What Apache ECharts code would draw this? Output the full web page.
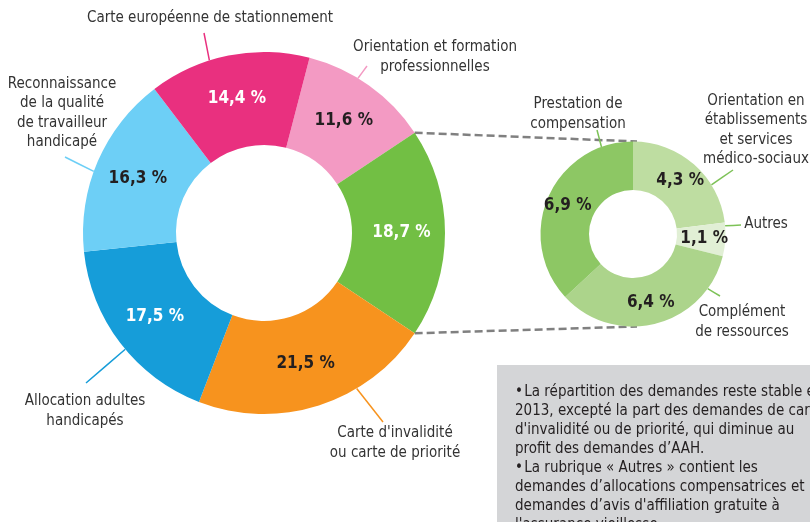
<!DOCTYPE html>
<html>
<head>
<meta charset="utf-8">
<script src="https://cdn.jsdelivr.net/npm/echarts@6/dist/echarts.min.js"></script>
<style>
  html, body { margin: 0; padding: 0; background: #fff; }
  #chart { width: 810px; height: 522px; }
</style>
</head>
<body>
<div id="chart"></div>
<script>
// demandes par type (grand anneau)
var mainNames = [
  'Orientation et formation\nprofessionnelles',
  'Prestations',
  "Carte d'invalidité\nou carte de priorité",
  'Allocation adultes\nhandicapés',
  'Reconnaissance\nde la qualité\nde travailleur\nhandicapé',
  'Carte européenne de stationnement'
];
var mainValues = [11.6, 18.7, 21.5, 17.5, 16.3, 14.4];
var mainColors = ['#F39AC3', '#72BF44', '#F7931E', '#169DD9', '#6DCFF6', '#E9307F'];
var mainPctColors = ['#231F20', '#ffffff', '#231F20', '#ffffff', '#231F20', '#ffffff'];

// détail des prestations (petit anneau)
var subNames = [
  'Orientation en\nétablissements\net services\nmédico-sociaux',
  'Autres',
  'Complément\nde ressources',
  'Prestation de\ncompensation'
];
var subValues = [4.3, 1.1, 6.4, 6.9];
var subColors = ['#BEDDA1', '#E1EFD5', '#ACD48B', '#8DC764'];

var noteLines = [
  '\u2022\u200aLa répartition des demandes reste stable en',
  '2013, excepté la part des demandes de carte',
  "d'invalidité ou de priorité, qui diminue au",
  'profit des demandes d\u2019AAH.',
  '\u2022\u200aLa rubrique « Autres » contient les',
  'demandes d\u2019allocations compensatrices et les',
  'demandes d\u2019avis d\'affiliation gratuite à',
  'l\'assurance vieillesse.'
];

// mise en page
var FONT = "'DejaVu Sans Condensed', Roboto, sans-serif";
var MAIN = { cx: 264, cy: 233, r0: 88, r: 181 };
var SUB = { cx: 633, cy: 234, r0: 44, r: 92.5 };
// la part "Prestations" est centrée sur l'horizontale
var mainStart = (mainValues[0] + mainValues[1] / 2) * 3.6;
var subStart = 90;

// position du texte, bout du trait, point d'attache dans la part (0..1)
var mainLabelPos = [[435, 57], null, [395, 443], [85, 411], [62, 113], [210, 18]];
var mainLineEnd = [[367, 66], null, [383, 422], [86, 383], [65, 157], [204, 33]];
var mainLineFrac = [0.4, 0.5, 0.33, 0.46, 0.44, 0.38];
var subLabelPos = [[756, 130], [766, 224], [742, 322], [578, 114]];
var subLineEnd = [[733, 170], [741, 225], [720, 296], [597, 130]];
var subLineFrac = [0.7, 0.1, 0.18, 0.85];

function pct(v) {
  return v.toFixed(1).replace('.', ',') + ' %';
}

// angle (radians, sens horaire depuis midi) d'un point dans la part i
function clockAngle(values, startAngle, i, frac) {
  var total = 0, before = 0;
  for (var k = 0; k < values.length; k++) {
    total += values[k];
    if (k < i) before += values[k];
  }
  var deg = (90 - startAngle) + (before + values[i] * frac) / total * 360;
  return deg * Math.PI / 180;
}

function arcPoint(geo, a) {
  return [geo.cx + geo.r * Math.sin(a), geo.cy - geo.r * Math.cos(a)];
}

function makeLayout(geo, values, startAngle, pos, ends, fracs) {
  return function (params) {
    var i = params.dataIndex;
    if (!pos[i]) return {};
    var p0 = arcPoint(geo, clockAngle(values, startAngle, i, fracs[i]));
    var p2 = ends[i];
    var p1 = [(p0[0] + p2[0]) / 2, (p0[1] + p2[1]) / 2];
    return {
      x: pos[i][0],
      y: pos[i][1],
      align: 'center',
      verticalAlign: 'middle',
      labelLinePoints: [p0, p1, p2]
    };
  };
}

function ringData(names, values, colors, pctColors) {
  return values.map(function (v, i) {
    return {
      name: names[i],
      value: v,
      itemStyle: { color: colors[i] },
      label: { color: pctColors ? pctColors[i] : '#231F20' }
    };
  });
}

function nameData(names, values, lineColors, pos) {
  return values.map(function (v, i) {
    var hide = !pos[i];
    return {
      name: names[i],
      value: v,
      label: { show: !hide },
      labelLine: { show: !hide, lineStyle: { color: lineColors[i] } }
    };
  });
}

var pctLabel = {
  show: true,
  position: 'inside',
  fontFamily: FONT,
  fontWeight: 'bold',
  fontSize: 17,
  formatter: function (p) { return pct(p.value); }
};

var nameLabel = {
  show: true,
  position: 'outside',
  fontFamily: FONT,
  fontSize: 15,
  lineHeight: 19.5,
  color: '#333333',
  align: 'center',
  overflow: 'none',
  formatter: '{b}'
};

var subLineColors = ['#7DC257', '#7DC257', '#7DC257', '#7DC257'];

var a0 = clockAngle(mainValues, mainStart, 1, 0);
var a1 = clockAngle(mainValues, mainStart, 1, 1);
var gTop = arcPoint(MAIN, a0);
var gBottom = arcPoint(MAIN, a1);

var chart = echarts.init(document.getElementById('chart'));
var option = {
  animation: false,
  backgroundColor: '#ffffff',
  graphic: [
    {
      type: 'line', z: 0,
      shape: { x1: gTop[0], y1: gTop[1], x2: SUB.cx + 4, y2: SUB.cy - SUB.r },
      style: { stroke: '#808080', lineWidth: 2.5, lineDash: [8, 4] }
    },
    {
      type: 'line', z: 0,
      shape: { x1: gBottom[0], y1: gBottom[1], x2: SUB.cx + 4, y2: SUB.cy + SUB.r },
      style: { stroke: '#808080', lineWidth: 2.5, lineDash: [8, 4] }
    },
    {
      type: 'rect', z: 0,
      shape: { x: 497, y: 365, width: 320, height: 160 },
      style: { fill: '#D4D5D7' }
    },
    {
      type: 'text', z: 1,
      x: 515, y: 383,
      style: {
        text: noteLines.join('\n'),
        font: '15px ' + FONT,
        lineHeight: 18.9,
        fill: '#231F20',
        textAlign: 'left',
        textVerticalAlign: 'top'
      }
    }
  ],
  series: [
    {
      type: 'pie',
      center: [MAIN.cx, MAIN.cy],
      radius: [MAIN.r0, MAIN.r],
      startAngle: mainStart,
      avoidLabelOverlap: false,
      silent: true,
      label: pctLabel,
      labelLine: { show: false },
      data: ringData(mainNames, mainValues, mainColors, mainPctColors)
    },
    {
      type: 'pie',
      center: [MAIN.cx, MAIN.cy],
      radius: [MAIN.r0, MAIN.r],
      startAngle: mainStart,
      avoidLabelOverlap: false,
      silent: true,
      itemStyle: { color: 'transparent' },
      label: nameLabel,
      labelLine: { show: true, length: 10, length2: 0, lineStyle: { width: 1.5 } },
      labelLayout: makeLayout(MAIN, mainValues, mainStart, mainLabelPos, mainLineEnd, mainLineFrac),
      data: nameData(mainNames, mainValues, mainColors, mainLabelPos)
    },
    {
      type: 'pie',
      center: [SUB.cx, SUB.cy],
      radius: [SUB.r0, SUB.r],
      startAngle: subStart,
      avoidLabelOverlap: false,
      silent: true,
      label: pctLabel,
      labelLine: { show: false },
      data: ringData(subNames, subValues, subColors)
    },
    {
      type: 'pie',
      center: [SUB.cx, SUB.cy],
      radius: [SUB.r0, SUB.r],
      startAngle: subStart,
      avoidLabelOverlap: false,
      silent: true,
      itemStyle: { color: 'transparent' },
      label: nameLabel,
      labelLine: { show: true, length: 10, length2: 0, lineStyle: { width: 1.5 } },
      labelLayout: makeLayout(SUB, subValues, subStart, subLabelPos, subLineEnd, subLineFrac),
      data: nameData(subNames, subValues, subLineColors, subLabelPos)
    }
  ]
};
chart.setOption(option, true);
</script>
</body>
</html>
